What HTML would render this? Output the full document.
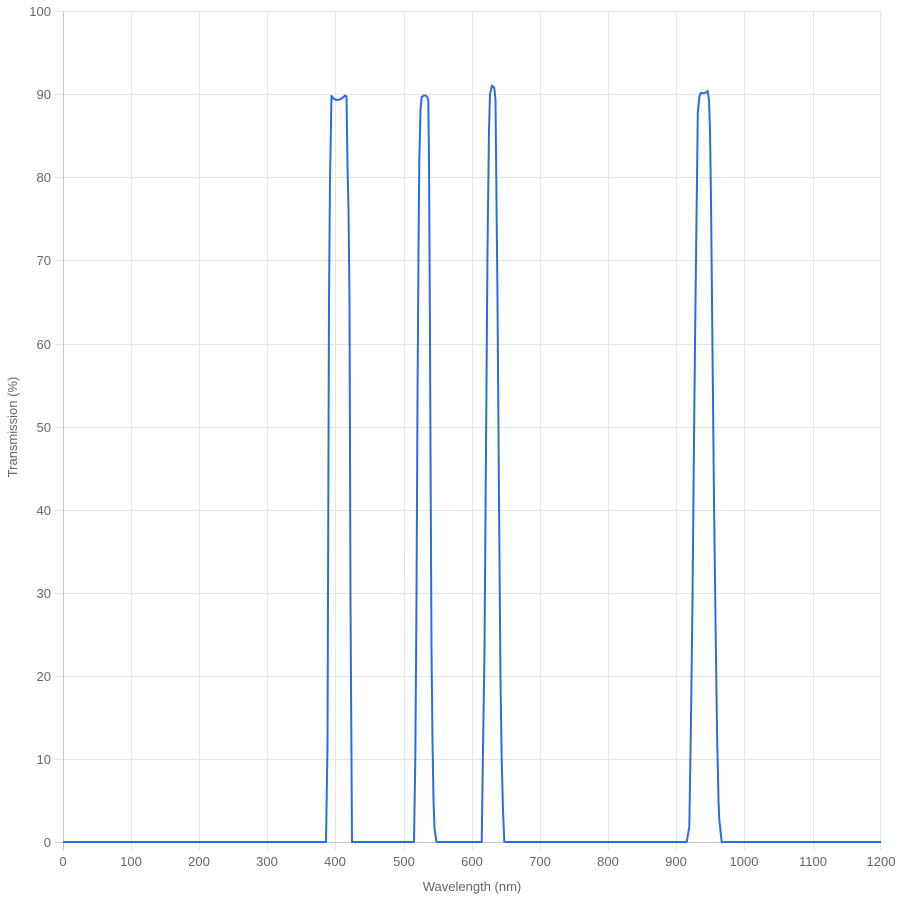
<!DOCTYPE html>
<html><head><meta charset="utf-8"><style>
html,body{margin:0;padding:0;background:#fff;}
svg{display:block;}
text{font-family:"Liberation Sans",Helvetica,Arial,sans-serif;font-size:13px;fill:#666;}
</style></head><body>
<svg width="900" height="900" viewBox="0 0 900 900" xmlns="http://www.w3.org/2000/svg">
<g stroke="#e5e5e5" stroke-width="1">
<line x1="55" y1="11.5" x2="881" y2="11.5"/>
<line x1="55" y1="94.5" x2="881" y2="94.5"/>
<line x1="55" y1="177.5" x2="881" y2="177.5"/>
<line x1="55" y1="260.5" x2="881" y2="260.5"/>
<line x1="55" y1="344.5" x2="881" y2="344.5"/>
<line x1="55" y1="427.5" x2="881" y2="427.5"/>
<line x1="55" y1="510.5" x2="881" y2="510.5"/>
<line x1="55" y1="593.5" x2="881" y2="593.5"/>
<line x1="55" y1="676.5" x2="881" y2="676.5"/>
<line x1="55" y1="759.5" x2="881" y2="759.5"/>
<line x1="131.5" y1="11" x2="131.5" y2="850"/>
<line x1="199.5" y1="11" x2="199.5" y2="850"/>
<line x1="267.5" y1="11" x2="267.5" y2="850"/>
<line x1="335.5" y1="11" x2="335.5" y2="850"/>
<line x1="404.5" y1="11" x2="404.5" y2="850"/>
<line x1="472.5" y1="11" x2="472.5" y2="850"/>
<line x1="540.5" y1="11" x2="540.5" y2="850"/>
<line x1="608.5" y1="11" x2="608.5" y2="850"/>
<line x1="676.5" y1="11" x2="676.5" y2="850"/>
<line x1="744.5" y1="11" x2="744.5" y2="850"/>
<line x1="813.5" y1="11" x2="813.5" y2="850"/>
<line x1="880.5" y1="11" x2="880.5" y2="850"/>
</g>
<g stroke="#c8c8c8" stroke-width="1">
<line x1="63.5" y1="11" x2="63.5" y2="850"/>
<line x1="55" y1="842.5" x2="881" y2="842.5"/>
</g>
<g text-anchor="end">
<text x="51" y="16">100</text>
<text x="51" y="99">90</text>
<text x="51" y="182">80</text>
<text x="51" y="265">70</text>
<text x="51" y="349">60</text>
<text x="51" y="432">50</text>
<text x="51" y="515">40</text>
<text x="51" y="598">30</text>
<text x="51" y="681">20</text>
<text x="51" y="764">10</text>
<text x="51" y="847">0</text>
</g>
<g text-anchor="middle">
<text x="63" y="866">0</text>
<text x="131" y="866">100</text>
<text x="199" y="866">200</text>
<text x="267" y="866">300</text>
<text x="335" y="866">400</text>
<text x="404" y="866">500</text>
<text x="472" y="866">600</text>
<text x="540" y="866">700</text>
<text x="608" y="866">800</text>
<text x="676" y="866">900</text>
<text x="744" y="866">1000</text>
<text x="813" y="866">1100</text>
<text x="881" y="866">1200</text>
<text x="472" y="891">Wavelength (nm)</text>
<text transform="translate(17,427) rotate(-90)">Transmission (%)</text>
</g>
<polyline fill="none" stroke="#2b6de0" stroke-width="2" stroke-linejoin="round" points="
63,842 326,842 327.5,745 328.5,450 329,300 330,180 331.5,96 334,99 337,100 340,99.5 343,97.5 345,95.5 346.5,96.5 347.5,165 348.5,210 349.5,300 350.5,600 352,842
414,842 415.3,759 416.5,600 417.5,400 418.5,250 419.3,160 420.5,110 421.7,97 424,95.3 426.5,96 428.3,100 429,160 429.8,300 430.5,450 431.5,650 432.5,740 433.5,800 434.5,828 436.5,842
481.7,842 483.3,730 484.5,650 486,450 487.5,250 489,130 490,94 492,85.5 494.3,88 495.5,100 496.5,200 497.5,300 499,500 500.5,680 501.7,760 503,810 504.3,842
686.7,842 689.3,827 691,720 692.5,600 694,440 695.5,300 697,180 697.8,113 699.3,97 700.7,93 704.3,93.3 706.7,92 707.7,91 709,100 710,130 711,200 712.5,350 714,500 715.5,620 717,730 718.5,800 719.3,820 721.7,842 881,842"/>
</svg>
</body></html>
